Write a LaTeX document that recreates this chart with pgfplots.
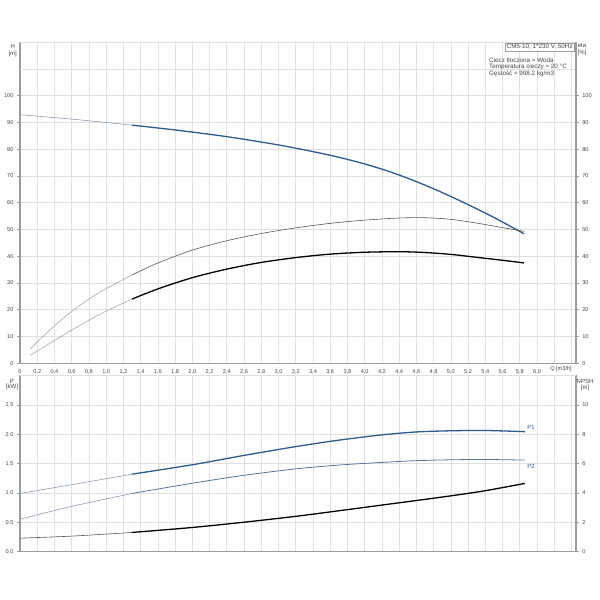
\documentclass[border=0pt]{standalone}
\usepackage{pgfplots}
\pgfplotsset{compat=1.18}
\usepackage{fontspec}
\setmainfont{Liberation Sans}
\definecolor{gridc}{HTML}{E0E0E0}
\definecolor{axc}{HTML}{9C9C9C}
\definecolor{txt}{HTML}{454545}
\definecolor{bthick}{HTML}{2D5B8B}
\definecolor{bthin}{HTML}{8C9DB2}
\definecolor{bmid}{HTML}{55769A}
\definecolor{gthin}{HTML}{A8A8A8}
\definecolor{gdark}{HTML}{555555}
\begin{document}
\begin{tikzpicture}
\path[use as bounding box] (0pt,0pt) rectangle (600pt,600pt);
\pgfplotsset{
  common/.style={
    scale only axis, width=555.8pt,
    xmin=0, xmax=6.45,
    xtick={0,0.2,0.4,0.6,0.8,1.0,1.2,1.4,1.6,1.8,2.0,2.2,2.4,2.6,2.8,3.0,3.2,3.4,3.6,3.8,4.0,4.2,4.4,4.6,4.8,5.0,5.2,5.4,5.6,5.8,6.0,6.2,6.4},
    grid style={color=gridc, line width=0.7pt},
    axis line style={color=axc, line width=1.5pt},
    tick style={color=axc, line width=0.6pt},
    xtick style={draw=none},
    major tick length=3pt,
    tick align=outside,
    tick label style={font=\fontsize{5.6}{6.5}\selectfont, text=txt},
    /pgf/number format/assume math mode=true,
    clip=false,
  },
  thinline/.style={smooth, no markers, line width=0.6pt},
  thickline/.style={smooth, no markers, line width=1.3pt},
}
% ---------------- top panel ----------------
\begin{axis}[common, at={(20pt,236.7pt)}, anchor=south west, height=321.1pt,
  ymin=0, ymax=120, ytick={0,10,...,100},
  extra y ticks={110,120}, extra y tick labels={},
  extra y tick style={major tick length=0pt, grid=major},
  xmajorgrids, ymajorgrids,
  axis x line*=bottom, axis y line*=left,
  xticklabels={0,{0,2},{0,4},{0,6},{0,8},{1,0},{1,2},{1,4},{1,6},{1,8},{2,0},{2,2},{2,4},{2,6},{2,8},{3,0},{3,2},{3,4},{3,6},{3,8},{4,0},{4,2},{4,4},{4,6},{4,8},{5,0},{5,2},{5,4},{5,6},{5,8},{6,0},{},{}},
]
% H curve
\addplot[thinline, color=bthin] coordinates {(0,92.9)(0.65,91.1)(1.3,89.0)};
\addplot[thickline, color=bthick] coordinates {(1.3,89.0)(1.8,87.2)(2.4,84.7)(3.0,81.6)(3.4,79.1)(3.7,77.0)(4.0,74.5)(4.3,71.5)(4.6,67.9)(4.9,63.8)(5.2,59.3)(5.5,54.5)(5.85,48.4)};
% upper eta
\addplot[thinline, color=gthin] coordinates {(0.12,5.3)(0.2,8.0)(0.4,14.0)(0.6,19.4)(0.8,24.0)(1.0,27.9)(1.3,33.0)};
\addplot[thinline, color=gdark] coordinates {(1.3,33.0)(1.6,37.5)(2.0,42.3)(2.4,45.8)(2.8,48.5)(3.2,50.6)(3.6,52.3)(4.0,53.5)(4.4,54.3)(4.7,54.4)(5.0,53.8)(5.3,52.4)(5.6,50.7)(5.85,49.3)};
% lower eta
\addplot[thinline, color=gthin] coordinates {(0.12,3.0)(0.2,4.6)(0.4,8.5)(0.6,12.4)(0.8,16.1)(1.0,19.5)(1.3,24.0)};
\addplot[thickline, color=black] coordinates {(1.3,24.0)(1.6,27.8)(2.0,32.0)(2.4,35.2)(2.8,37.7)(3.2,39.5)(3.6,40.8)(4.0,41.5)(4.4,41.7)(4.7,41.4)(5.0,40.7)(5.3,39.6)(5.6,38.5)(5.85,37.5)};
\end{axis}
\begin{axis}[common, at={(20pt,236.7pt)}, anchor=south west, height=321.1pt,
  ymin=0, ymax=120, ytick={0,10,...,100},
  axis y line*=right, axis x line=none,
]
\end{axis}
% ---------------- bottom panel ----------------
\begin{axis}[common, at={(20pt,48.5pt)}, anchor=south west, height=175.8pt,
  ymin=0, ymax=3, ytick={0,0.5,1.0,1.5,2.0,2.5},
  extra y ticks={3}, extra y tick labels={},
  extra y tick style={major tick length=0pt, grid=major},
  xmajorgrids, ymajorgrids,
  tick pos=left, xticklabels={},
  yticklabel style={/pgf/number format/.cd, fixed, precision=1, fixed zerofill},
]
\addplot[thinline, color=bthin] coordinates {(0,0.99)(0.6,1.14)(1.3,1.32)};
\addplot[thickline, color=bthick] coordinates {(1.3,1.32)(2.0,1.48)(2.6,1.64)(3.2,1.79)(3.7,1.90)(4.2,1.99)(4.6,2.04)(5.0,2.06)(5.4,2.065)(5.86,2.045)};
\addplot[thinline, color=bthin] coordinates {(0,0.55)(0.6,0.77)(1.3,0.99)};
\addplot[thinline, line width=0.8pt, color=bmid] coordinates {(1.3,0.99)(2.0,1.165)(2.6,1.30)(3.2,1.41)(3.7,1.475)(4.2,1.52)(4.6,1.55)(5.0,1.565)(5.4,1.57)(5.86,1.56)};
\node[font=\fontsize{6}{7}\selectfont, text=bthick] at (axis cs:5.93,2.11) {P1};
\node[font=\fontsize{6}{7}\selectfont, text=bthick] at (axis cs:5.93,1.455) {P2};
\end{axis}
\begin{axis}[common, at={(20pt,48.5pt)}, anchor=south west, height=175.8pt,
  ymin=0, ymax=12, ytick={0,2,...,10},
  axis y line*=right, axis x line=none,
]
\addplot[thinline, color=gdark] coordinates {(0,0.91)(0.6,1.05)(1.3,1.30)};
\addplot[thickline, color=black] coordinates {(1.3,1.30)(2.0,1.64)(2.6,2.0)(3.2,2.40)(3.7,2.78)(4.2,3.17)(4.6,3.48)(5.0,3.80)(5.4,4.15)(5.86,4.65)};
\end{axis}
% ---------------- texts ----------------
\begin{scope}[every node/.style={font=\fontsize{6}{7}\selectfont, text=txt, inner sep=0pt}]
\node at (12.7pt,554pt) {H};
\node at (12.7pt,546pt) {[m]};
\node at (582pt,554pt) {eta};
\node at (582pt,547pt) {[\%]};
\node at (12pt,218.3pt) {P};
\node at (12pt,213pt) {[kW]};
\node at (585pt,218.3pt) {NPSH};
\node at (585pt,212.3pt) {[m]};
\node[font=\fontsize{5.6}{6.5}\selectfont] at (561pt,231pt) {Q [m3/h]};
\node[draw=axc, line width=0.6pt, inner xsep=1.5pt, inner ysep=1.2pt, anchor=north east, fill=white, font=\fontsize{6.3}{7}\selectfont] at (574.5pt,557pt) {CM5-10, 1*230 V, 50Hz};
\node[anchor=west, font=\fontsize{6.3}{7}\selectfont] at (489pt,540pt) {Ciecz tłoczona = Woda};
\node[anchor=west, font=\fontsize{6.3}{7}\selectfont] at (489pt,532.7pt) {Temperatura cieczy = 20 °C};
\node[anchor=west, font=\fontsize{6.3}{7}\selectfont] at (489pt,525.8pt) {Gęstość = 998.2 kg/m3};
\end{scope}
\end{tikzpicture}
\end{document}
